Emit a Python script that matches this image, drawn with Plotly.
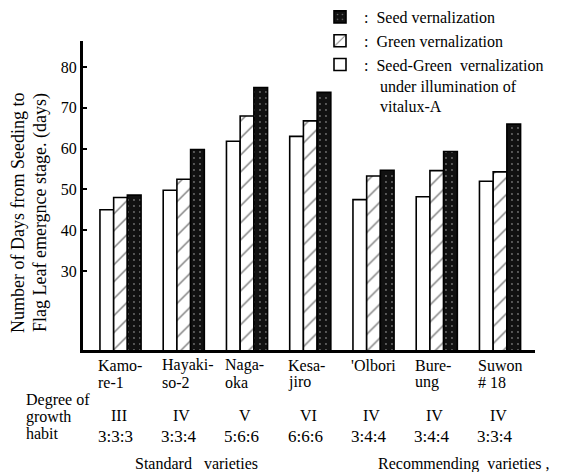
import plotly.graph_objects as go

# ---- data ----
varieties = ["Kamo-<br>re-1", "Hayaki-<br>so-2", "Naga-<br>oka", "Kesa-<br>jiro",
             "'Olbori", "Bure-<br>ung", "Suwon<br># 18"]
growth_degree = ["III", "IV", "V", "VI", "IV", "IV", "IV"]
growth_ratio = ["3:3:3", "3:3:4", "5:6:6", "6:6:6", "3:4:4", "3:4:4", "3:3:4"]
seed_green = [45.0, 49.8, 61.8, 63.0, 47.5, 48.2, 52.0]
green = [48.0, 52.5, 68.0, 66.8, 53.3, 54.6, 54.3]
seed = [48.6, 59.8, 75.0, 73.8, 54.7, 59.3, 66.0]
y_ticks = [30, 40, 50, 60, 70, 80]

FONT = "Liberation Serif"
idx = list(range(len(varieties)))

# page has an 8px body margin; work in figure pixels = page pixels - 8
W, H = 555, 464
PL, PR, PT, PB = 75, 527, 33, 342
def px(xp):
    return (xp - PL) / (PR - PL)
def py(yp):
    return (PB - yp) / (PB - PT)

fig = go.Figure()
fig.add_trace(go.Bar(
    x=idx, y=seed_green,
    name="\u00a0:\u00a0\u00a0Seed-Green\u00a0\u00a0vernalization<br>"
         "\u00a0\u00a0\u00a0\u00a0\u00a0under illumination of<br>"
         "\u00a0\u00a0\u00a0\u00a0\u00a0vitalux-A",
    marker=dict(color="white", line=dict(color="black", width=1.6)),
))
fig.add_trace(go.Bar(
    x=idx, y=green,
    name="\u00a0:\u00a0\u00a0Green vernalization",
    marker=dict(color="white", line=dict(color="black", width=1.6),
                pattern=dict(shape="/", fgcolor="black", bgcolor="white",
                             size=12, solidity=0.12)),
))
fig.add_trace(go.Bar(
    x=idx, y=seed,
    name="\u00a0:\u00a0\u00a0Seed vernalization",
    marker=dict(color="black", line=dict(color="black", width=1.6),
                pattern=dict(shape=".", fgcolor="#cccccc", bgcolor="#111111",
                             size=6, solidity=0.08)),
))

TF = dict(size=16, family=FONT, color="black")
RF = dict(size=17, family=FONT, color="black")
for i in idx:
    lines = varieties[i].split("<br>")
    for k, line in enumerate(lines):
        fig.add_annotation(x=i - 0.38, y=py(357 + 17 * k), xref="x", yref="paper",
                           text=line, showarrow=False, xanchor="left",
                           yanchor="middle", font=TF)
    fig.add_annotation(x=i - 0.03, y=py(407), xref="x", yref="paper", text=growth_degree[i],
                       showarrow=False, xanchor="center", yanchor="middle", font=TF)
    fig.add_annotation(x=i - 0.08, y=py(428), xref="x", yref="paper", text=growth_ratio[i],
                       showarrow=False, xanchor="center", yanchor="middle", font=RF)

for k, line in enumerate(["Degree of", "growth", "habit"]):
    fig.add_annotation(x=px(16), y=py(392 + 16.5 * k), xref="paper", yref="paper",
                       text=line, showarrow=False, xanchor="left", yanchor="middle",
                       font=TF)
fig.add_annotation(x=px(188), y=py(455), xref="paper", yref="paper",
                   text="Standard\u00a0\u00a0\u00a0varieties", showarrow=False,
                   xanchor="center", yanchor="middle", font=TF)
fig.add_annotation(x=px(456), y=py(456), xref="paper", yref="paper",
                   text="Recommending\u00a0\u00a0varieties\u00a0,", showarrow=False,
                   xanchor="center", yanchor="middle", font=TF)
for xp, line in [(10, "Number of Days from Seeding to"),
                 (32, "Flag Leaf emergnce stage. (days)")]:
    fig.add_annotation(x=px(xp), y=py(205), xref="paper", yref="paper", text=line,
                       showarrow=False, textangle=-90, xanchor="center",
                       yanchor="middle", font=dict(size=18, family=FONT, color="black"))

fig.update_layout(
    width=W, height=H,
    margin=dict(l=PL, r=W - PR, t=PT, b=H - PB, pad=0, autoexpand=False),
    paper_bgcolor="white", plot_bgcolor="white",
    barmode="group", bargap=0.35, bargroupgap=0,
    font=dict(family=FONT, size=16, color="black"),
    showlegend=True,
    legend=dict(x=px(312), y=py(-8), xanchor="left", yanchor="top",
                traceorder="reversed", valign="top",
                font=dict(size=16, family=FONT, color="black"),
                bgcolor="rgba(0,0,0,0)", itemwidth=30, tracegroupgap=0),
    xaxis=dict(range=[-0.593, 6.553], showticklabels=False, ticks="",
               showline=True, linecolor="black", linewidth=3,
               showgrid=False, zeroline=False, fixedrange=True),
    yaxis=dict(range=[10.6, 86.4], tickvals=y_ticks, ticks="inside", ticklen=4,
               tickwidth=2, tickcolor="black",
               showline=True, linecolor="black", linewidth=3,
               showgrid=False, zeroline=False,
               tickfont=dict(size=16, family=FONT, color="black")),
)

fig.write_html("out.html")
